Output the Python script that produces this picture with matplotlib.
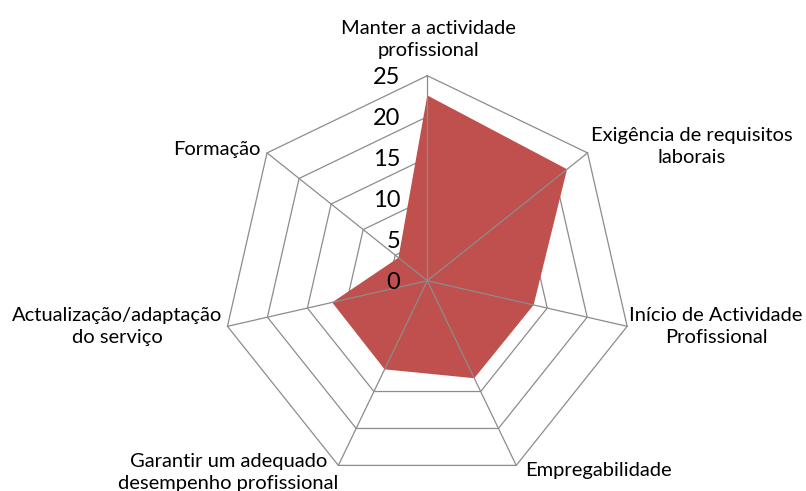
import numpy as np
import matplotlib
matplotlib.use('Agg')
import matplotlib.pyplot as plt

plt.rcParams['font.family'] = ['Lato', 'DejaVu Sans']

# Data
categories = [
    'Manter a actividade\nprofissional',
    'Exigência de requisitos\nlaborais',
    'Início de Actividade\nProfissional',
    'Empregabilidade',
    'Garantir um adequado\ndesempenho profissional',
    'Actualização/adaptação\ndo serviço',
    'Formação',
]
values = [22.6, 21.8, 13.3, 13.2, 12.0, 11.9, 4.5]
r_ticks = [0, 5, 10, 15, 20, 25]

# label offsets (pixels) from the outer vertex of each spoke
label_offsets = [(1, 36), (104, 6), (89, 0), (82, -5), (-110, -7), (-110, 0), (-50, 3)]

grid_color = '#8c8c8c'
fill_color = '#C0504D'

n = len(categories)
theta = np.linspace(0, 2 * np.pi, n, endpoint=False)
theta_closed = np.append(theta, theta[0])

fig = plt.figure(figsize=(8.06, 4.91), dpi=100)
ax = fig.add_axes([0.2758, 0.0108, 0.5087, 0.835], projection='polar')
ax.set_theta_zero_location('N')
ax.set_theta_direction(-1)
ax.set_ylim(0, r_ticks[-1])
ax.set_xticks([])
ax.set_yticks([])
ax.spines['polar'].set_visible(False)
ax.patch.set_alpha(0)

# polygon rings (under the fill)
for r in r_ticks[1:]:
    ax.plot(theta_closed, [r] * (n + 1), color=grid_color, lw=0.9, zorder=1, clip_on=False)

# filled series
vals_closed = values + values[:1]
ax.fill(theta_closed, vals_closed, color=fill_color, lw=0, zorder=2)

# spokes (above the fill)
for t in theta:
    ax.plot([t, t], [0, r_ticks[-1]], color=grid_color, lw=0.9, zorder=3, clip_on=False)

# radial tick labels
for r in r_ticks:
    ax.annotate(str(r), xy=(0, r), xytext=(-27, -2), textcoords='offset pixels',
                ha='right', va='center', fontsize=17, color='black', zorder=4,
                annotation_clip=False)

# category labels
for t, lab, (dx, dy) in zip(theta, categories, label_offsets):
    ax.annotate(lab, xy=(t, r_ticks[-1]), xytext=(dx, dy), textcoords='offset pixels',
                ha='center', va='center', multialignment='center', fontsize=14.5,
                color='black', annotation_clip=False, linespacing=1.35)

fig.savefig('out.png', dpi=100)
